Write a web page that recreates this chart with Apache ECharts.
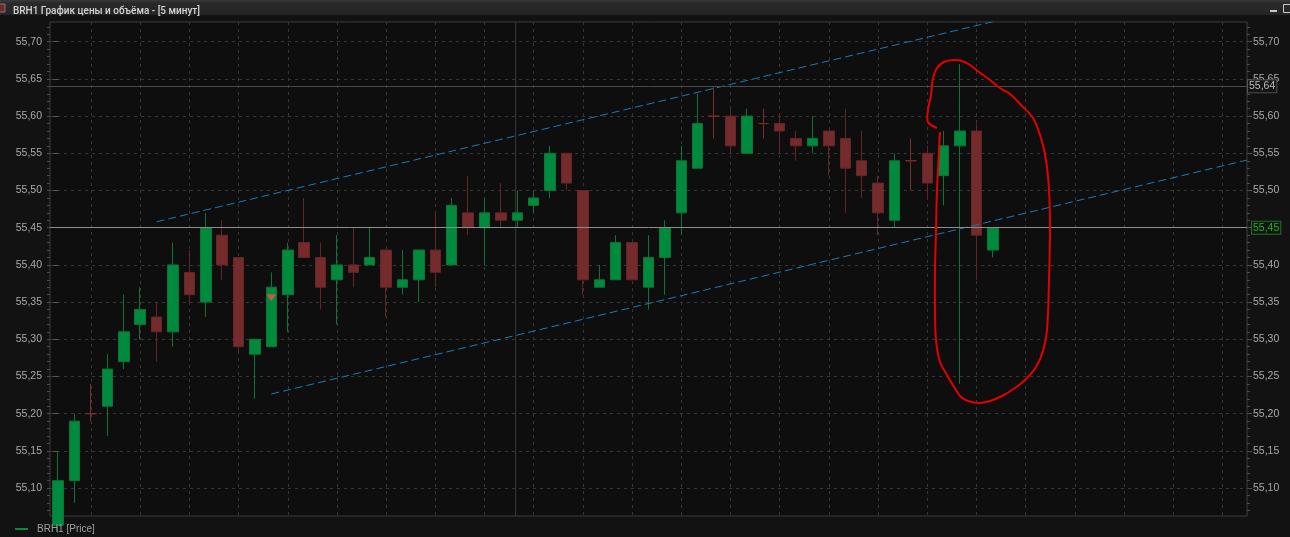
<!DOCTYPE html>
<html><head><meta charset="utf-8">
<script src="https://cdn.jsdelivr.net/npm/echarts@6/dist/echarts.min.js"></script>
<style>html,body{margin:0;padding:0;background:#121212;}#c{width:1290px;height:537px;}</style>
</head><body><div id="c"></div>
<script>
// ---- data ----
const slotCount = 73;
const categories = [];
for (let i = 0; i < slotCount; i++) categories.push('#' + (i + 1));
const openP  = [55.05,55.11,55.20,55.21,55.27,55.32,55.33,55.31,55.39,55.35,55.44,55.41,55.28,55.29,55.36,55.43,55.41,55.38,55.40,55.40,55.42,55.37,55.38,55.42,55.40,55.47,55.45,55.47,55.46,55.48,55.50,55.55,55.50,55.37,55.38,55.43,55.37,55.41,55.47,55.53,55.60,55.60,55.55,55.59,55.59,55.57,55.56,55.58,55.57,55.54,55.51,55.46,55.54,55.55,55.52,55.56,55.58,55.42];
const closeP = [55.11,55.19,55.20,55.26,55.31,55.34,55.31,55.40,55.36,55.45,55.40,55.29,55.30,55.37,55.42,55.41,55.37,55.40,55.39,55.41,55.37,55.38,55.42,55.39,55.48,55.45,55.47,55.46,55.47,55.49,55.55,55.51,55.38,55.38,55.43,55.38,55.41,55.45,55.54,55.59,55.60,55.56,55.60,55.59,55.58,55.56,55.57,55.56,55.53,55.52,55.47,55.54,55.54,55.51,55.56,55.58,55.44,55.45];
const lowP   = [55.04,55.08,55.19,55.17,55.26,55.30,55.27,55.29,55.35,55.33,55.38,55.28,55.22,55.29,55.31,55.41,55.34,55.32,55.37,55.40,55.33,55.36,55.35,55.37,55.40,55.44,55.40,55.45,55.45,55.47,55.49,55.50,55.36,55.37,55.38,55.38,55.34,55.36,55.44,55.53,55.57,55.55,55.55,55.57,55.55,55.54,55.55,55.52,55.47,55.49,55.44,55.45,55.50,55.49,55.48,55.24,55.38,55.41];
const highP  = [55.15,55.20,55.24,55.28,55.36,55.37,55.35,55.43,55.42,55.47,55.46,55.41,55.30,55.39,55.43,55.49,55.43,55.44,55.45,55.45,55.42,55.42,55.42,55.47,55.49,55.52,55.49,55.51,55.50,55.50,55.56,55.55,55.50,55.40,55.44,55.43,55.44,55.46,55.56,55.63,55.64,55.61,55.61,55.61,55.60,55.58,55.60,55.58,55.61,55.58,55.52,55.55,55.57,55.56,55.58,55.67,55.59,55.45];
const priceTicks = [55.10,55.15,55.20,55.25,55.30,55.35,55.40,55.45,55.50,55.55,55.60,55.65,55.70];
const minorTicks = [];
for (let k = 5507; k <= 5572; k++) minorTicks.push(k / 100);
const gridXTicks = [2,5,8,11,14,17,20,23,26,29,32,35,38,41,44,47,50,53,56,59,62,65,68,71];
const channelUpper = [[6, 55.458], [57, 55.727]];
const channelLower = [[13, 55.2265], [72.5, 55.541]];
const lastPrice = 55.45;
const levelPrice = 55.64;
const signalIdx = [13];
const signalPrice = [55.356];
const cursorX = 27.9;
const yMin = 55.0625, yMax = 55.7265;
const seriesName = 'BRH1 [Price]';
const titleText = 'BRH1 График цены и объёма - [5 минут]';

const fmt = v => Number(v).toFixed(2).replace('.', ',');
const candles = openP.map((o, i) => [o, closeP[i], lowP[i], highP[i]]);
const signals = signalIdx.map((x, i) => [x, signalPrice[i]]);

const FONT = 'Liberation Sans';
const labelColor = '#a9a9a9';
const gridDash = { color: '#363636', type: [3, 4], width: 1 };

function yAx(pos, opts) {
  return Object.assign({
    type: 'value', position: pos, min: yMin, max: yMax, scale: true,
    axisLine: { show: false },
    axisTick: { show: true, length: 5, customValues: priceTicks, lineStyle: { color: '#5a5a5a' } },
    axisLabel: { show: true, customValues: priceTicks, formatter: fmt, color: labelColor,
      fontFamily: FONT, fontSize: 10.5, margin: pos === 'left' ? 8 : 6 },
    splitLine: { show: false }
  }, opts || {});
}

const chart = echarts.init(document.getElementById('c'), null, { renderer: 'canvas' });
chart.setOption({
  animation: false,
  backgroundColor: '#121212',
  title: { text: titleText, left: 8, top: 1,
    textStyle: { color: '#d4d4d4', fontSize: 10, fontWeight: 500, fontFamily: 'Roboto' } },
  legend: {
    left: 10, top: 519, itemWidth: 13, itemHeight: 2, itemGap: 10,
    itemStyle: { color: '#0b8a36', borderWidth: 0 },
    data: [{ name: seriesName, icon: 'rect', itemStyle: { color: '#0b8a36', borderWidth: 0 } }],
    textStyle: { color: '#a0a0a0', fontSize: 10, fontFamily: FONT, padding: [0, 0, 0, 4] },
    selectedMode: false
  },
  grid: { left: 50, right: 43, top: 22, bottom: 21, show: true,
    backgroundColor: '#0e0e0e', borderColor: '#3c3c3c', borderWidth: 1 },
  xAxis: [
    { type: 'category', data: categories, boundaryGap: true,
      axisLine: { show: false }, axisTick: { show: false }, axisLabel: { show: false },
      splitLine: { show: false } },
    { type: 'value', min: -0.5, max: slotCount - 0.5, position: 'bottom',
      axisLine: { show: false }, axisLabel: { show: false },
      axisTick: { show: false, customValues: gridXTicks },
      splitLine: { show: true, lineStyle: gridDash } }
  ],
  yAxis: [
    yAx('left', { splitLine: { show: true, lineStyle: gridDash } }),
    yAx('right'),
    yAx('left', { axisTick: { show: true, length: 3, customValues: minorTicks, lineStyle: { color: '#4a4a4a' } },
      axisLabel: { show: false } }),
    yAx('right', { axisTick: { show: true, length: 3, customValues: minorTicks, lineStyle: { color: '#4a4a4a' } },
      axisLabel: { show: false } })
  ],
  series: [
    {
      type: 'line', xAxisIndex: 1, yAxisIndex: 0, data: [[cursorX, yMin], [cursorX, yMax]],
      symbol: 'none', silent: true, z: 1,
      lineStyle: { color: '#3a3a3a', width: 1 }
    },
    {
      name: seriesName, type: 'candlestick', xAxisIndex: 0, yAxisIndex: 0,
      data: candles, barWidth: 11, z: 3,
      itemStyle: { color: '#008a3e', color0: '#752b2b', borderColor: '#0d7435',
        borderColor0: '#632626', borderColorDoji: '#7a2e2e', borderWidth: 1 },
      markLine: {
        silent: true, symbol: ['none', 'none'], animation: false,
        data: [
          { yAxis: lastPrice, lineStyle: { color: '#8d8d8d', width: 1, type: 'solid' },
            label: { show: true, position: 'end', distance: 5, formatter: () => fmt(lastPrice),
              color: '#3aa43a', backgroundColor: '#0c1a0c', borderColor: '#2b6a2b', borderWidth: 1,
              padding: [1, 1, 0, 1], fontSize: 10.5, fontFamily: FONT } },
          { yAxis: levelPrice, lineStyle: { color: '#4a4a4a', width: 1, type: 'solid' },
            label: { show: true, position: 'end', distance: 1, formatter: () => fmt(levelPrice),
              color: '#bdbdbd', backgroundColor: '#141414', borderColor: '#555555', borderWidth: 1,
              padding: [1, 1, 0, 1], fontSize: 10.5, fontFamily: FONT } }
        ]
      }
    },
    {
      type: 'scatter', xAxisIndex: 0, yAxisIndex: 0, data: signals, z: 5, silent: true,
      symbol: 'triangle', symbolRotate: 180, symbolSize: [10, 7],
      itemStyle: { color: '#e8524c' }
    },
    {
      type: 'line', xAxisIndex: 1, yAxisIndex: 0, data: channelUpper, symbol: 'none', silent: true, z: 4,
      lineStyle: { color: '#1b7ab8', width: 1, type: [8, 4] }
    },
    {
      type: 'line', xAxisIndex: 1, yAxisIndex: 0, data: channelLower, symbol: 'none', silent: true, z: 4,
      lineStyle: { color: '#1b7ab8', width: 1, type: [8, 4] }
    }
  ],
  graphic: [
    { type: 'rect', z: -1, shape: { x: 0, y: 0, width: 1290, height: 15 },
      style: { fill: new echarts.graphic.LinearGradient(0, 0, 0, 1, [
        { offset: 0, color: '#3a3a3a' }, { offset: 0.2, color: '#2a2a2a' }, { offset: 1, color: '#242424' }]) } },
    { type: 'rect', z: 10, shape: { x: -1, y: 4, width: 6, height: 8 },
      style: { fill: '#6e2a2a', stroke: '#7a7a7a', lineWidth: 1 } },
    { type: 'rect', z: 10, shape: { x: 1270, y: 10, width: 7, height: 2 }, style: { fill: '#c8c8c8' } },
    { type: 'rect', z: 10, shape: { x: 1283.5, y: 4.5, width: 8, height: 8 },
      style: { fill: 'none', stroke: '#c8c8c8', lineWidth: 1 } },
    { type: 'polyline', z: 100, silent: true,
      shape: { smooth: 0.35, points: [
        [937,128],[928,122],[928,110],[931,95],[933,78],[937,68],[944,62],[953,60],[962,61],[970,65],
        [979,72],[990,80],[1000,88],[1010,94],[1021,105],[1033,118],[1041,138],[1046,160],[1049,190],
        [1050,230],[1049,280],[1047,330],[1043,351],[1036,367],[1026,379],[1015,388],[1002,396],
        [990,401],[979,403],[968,401],[961,397],[954,387],[947,375],[940,362],[936,340],[935,310],
        [935,270],[936,230],[937,190],[939,150],[940,132]] },
      style: { stroke: '#e50000', lineWidth: 2, fill: null } }
  ]
});
</script></body></html>
